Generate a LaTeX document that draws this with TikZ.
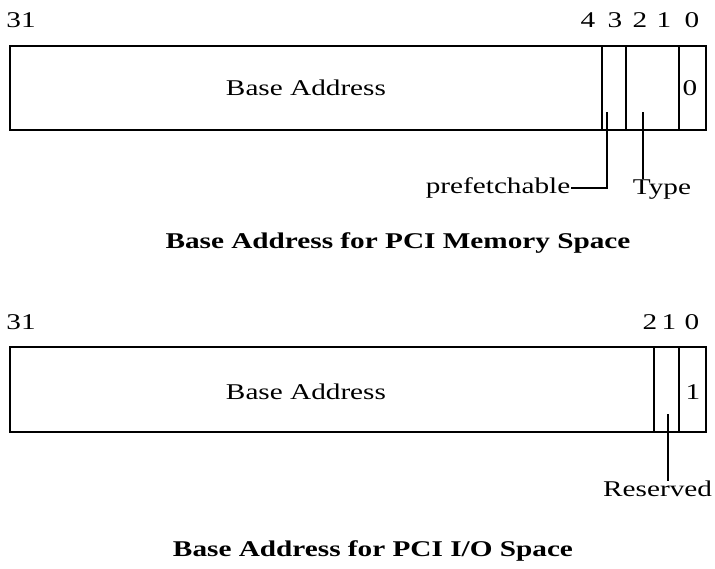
\documentclass[tikz,border=0pt]{standalone}
\usepackage{fontspec}
\setmainfont{Liberation Serif}[FakeStretch=1.3]
\begin{document}
\begin{tikzpicture}[x=0.025cm, y=-0.025cm, line cap=rect, line join=miter,
  font=\fontsize{16}{19}\selectfont,
  frame/.style={line width=2pt},
  split/.style={line width=1.4pt},
  lead/.style={line width=1.4pt},
  caption/.style={font=\fontsize{16}{19}\selectfont\bfseries}]
\useasboundingbox (0,0) rectangle (715,568);

% Memory space register
\draw[frame] (10,46) rectangle (706,130);
\draw[split] (602,46) -- (602,130);
\draw[split] (626,46) -- (626,130);
\draw[split] (679,46) -- (679,130);

\node (memhi) at (21,20) {31};
\node (mem4) at (588,20) {4};
\node (mem3) at (615,20) {3};
\node (mem2) at (640,20) {2};
\node (mem1) at (664,20) {1};
\node (mem0) at (692,20) {0};

\node (membase) at (306,88) {Base Address};
\node (memspace) at (690,88) {0};

% Leaders for the memory bits
\coordinate (pfbit) at (607,113);
\coordinate (tybit) at (643,113);
\node[anchor=east, inner sep=1pt] (prefetch) at (572,188) {prefetchable};
\node[anchor=north, inner sep=1pt] (type) at (662,178) {Type};
\draw[lead] (pfbit) |- (prefetch.east);
\draw[lead] (tybit) -- (tybit |- type.north);

\node[caption] (memcap) at (398,243) {Base Address for PCI Memory Space};

% I/O space register
\draw[frame] (10,347) rectangle (706,432);
\draw[split] (654,347) -- (654,432);
\draw[split] (679,347) -- (679,432);

\node (iohi) at (21,322) {31};
\node (io2) at (650,322) {2};
\node (io1) at (669,322) {1};
\node (io0) at (692,322) {0};

\node (iobase) at (306,392) {Base Address};
\node (iospace) at (693,392) {1};

% Leader for the reserved bit
\coordinate (resbit) at (668,415);
\node[anchor=north east, inner sep=0.5pt] (reserved) at (713,480) {Reserved};
\draw[lead] (resbit) -- (resbit |- reserved.north);

\node[caption] (iocap) at (373,551) {Base Address for PCI I/O Space};

\end{tikzpicture}
\end{document}
